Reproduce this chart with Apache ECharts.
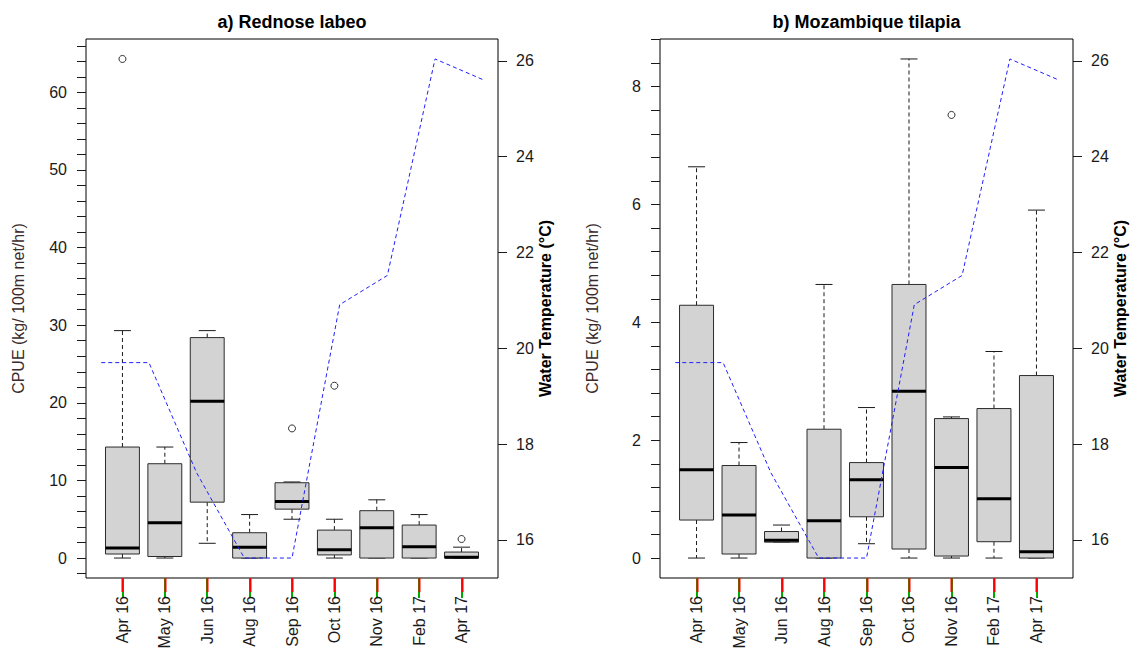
<!DOCTYPE html>
<html>
<head>
<meta charset="utf-8">
<script src="https://cdn.jsdelivr.net/npm/echarts@6/dist/echarts.min.js"></script>
<style>
  html, body { margin: 0; padding: 0; background: #fff; }
  #chart { width: 1135px; height: 648px; }
</style>
</head>
<body>
<div id="chart"></div>
<script>
// Sampling months (shared by both panels)
const months = ['Apr 16', 'May 16', 'Jun 16', 'Aug 16', 'Sep 16', 'Oct 16', 'Nov 16', 'Feb 17', 'Apr 17'];

// Mean water temperature per sampling month (°C)
const waterTemp = [19.7, 19.7, 17.4, 15.62, 15.62, 20.91, 21.52, 26.04, 25.61];

// a) Rednose labeo CPUE (kg/100m net/hr): five-number summaries per month
const labeoLow    = [0,    0,     1.9,  0,    5.0,  0,    0,    0,    0];
const labeoQ1     = [0.52, 0.2,   7.2,  0,    6.3,  0.4,  0,    0,    0];
const labeoMedian = [1.3,  4.55,  20.2, 1.4,  7.3,  1.07, 3.9,  1.46, 0.09];
const labeoQ3     = [14.3, 12.15, 28.4, 3.26, 9.7,  3.6,  6.1,  4.25, 0.77];
const labeoHigh   = [29.3, 14.3,  29.3, 5.6,  9.8,  5.0,  7.5,  5.6,  1.4];
const labeoOutlierMonth = ['Apr 16', 'Sep 16', 'Oct 16', 'Apr 17'];
const labeoOutlierValue = [64.3, 16.7, 22.2, 2.45];

// b) Mozambique tilapia CPUE (kg/100m net/hr)
const tilapiaLow    = [0,     0,     0.27, 0,     0.243, 0,     0,     0,     0];
const tilapiaQ1     = [0.645, 0.068, 0.27, 0,     0.70,  0.153, 0.034, 0.277, 0];
const tilapiaMedian = [1.50,  0.73,  0.30, 0.634, 1.33,  2.83,  1.535, 1.008, 0.108];
const tilapiaQ3     = [4.29,  1.57,  0.45, 2.186, 1.62,  4.643, 2.367, 2.537, 3.097];
const tilapiaHigh   = [6.64,  1.96,  0.56, 4.643, 2.554, 8.47,  2.395, 3.505, 5.905];
const tilapiaOutlierMonth = ['Nov 16'];
const tilapiaOutlierValue = [7.52];

// Axis tick positions
const labeoTicks = [];
for (let v = -2; v <= 66; v += 2) labeoTicks.push(v);
const labeoLabels = [0, 10, 20, 30, 40, 50, 60];
const tilapiaTicks = [];
for (let i = 0; i <= 22; i++) tilapiaTicks.push(Math.round(i * 0.4 * 10) / 10);
const tilapiaLabels = [0, 2, 4, 6, 8];
const tempTicks = [16, 18, 20, 22, 24, 26];

const FONT = '"Liberation Sans", Arial, sans-serif';
const INK = '#1a1a1a';
const TICK_LEN = 9;

// Month scale of the boxes spans 0.14 .. 9.86 (R boxplot default)
const BOX_X = [0.14, 9.86];
// Month scale of the temperature trace spans 0.68 .. 9.32
const LINE_X = [0.68, 9.32];

// R-style range padding: 4% of the data range on each side
function padRange(lo, hi) {
  const d = (hi - lo) * 0.04;
  return [lo - d, hi + d];
}

function boxRows(low, q1, med, q3, high) {
  return months.map((m, i) => [i + 1, low[i], q1[i], med[i], q3[i], high[i]]);
}

function outlierRows(monthsOut, values) {
  return monthsOut.map((m, i) => [months.indexOf(m) + 1, values[i]]);
}

// Box-and-whisker drawn with dashed whiskers, solid staples and a heavy median,
// plus the month tick hanging below the frame (axisFloor = bottom of the value axis)
function makeBoxRenderer(axisFloor) {
  return function (params, api) {
    const x = api.value(0);
    const lo = api.value(1), q1 = api.value(2), md = api.value(3), q3 = api.value(4), hi = api.value(5);
    const boxW = api.size([0.8, 0])[0];
    const capW = boxW / 2;
    const c = api.coord([x, 0])[0];
    const y = v => api.coord([x, v])[1];
    const tickX = Math.round(c) + 0.5;
    const frameBottom = Math.round(y(axisFloor));
    const dashed = { stroke: INK, lineWidth: 1, lineDash: [4, 3], fill: null };
    const solid = { stroke: INK, lineWidth: 1, fill: null };
    const kids = [];
    kids.push({
      type: 'line', z2: 50,
      shape: { x1: tickX, y1: frameBottom, x2: tickX, y2: frameBottom + 14 },
      style: { stroke: '#ff0000', lineWidth: 2 }
    });
    if (hi > q3) {
      kids.push({ type: 'line', shape: { x1: c, y1: y(q3), x2: c, y2: y(hi) }, style: dashed });
    }
    if (lo < q1) {
      kids.push({ type: 'line', shape: { x1: c, y1: y(q1), x2: c, y2: y(lo) }, style: dashed });
    }
    kids.push({ type: 'line', shape: { x1: c - capW / 2, y1: y(hi), x2: c + capW / 2, y2: y(hi) }, style: solid });
    kids.push({ type: 'line', shape: { x1: c - capW / 2, y1: y(lo), x2: c + capW / 2, y2: y(lo) }, style: solid });
    const top = y(q3), bot = y(q1);
    kids.push({
      type: 'rect',
      shape: { x: c - boxW / 2, y: top, width: boxW, height: Math.max(bot - top, 0.5) },
      style: { fill: '#d3d3d3', stroke: '#2b2b2b', lineWidth: 1 }
    });
    kids.push({
      type: 'line',
      shape: { x1: c - boxW / 2, y1: y(md), x2: c + boxW / 2, y2: y(md) },
      style: { stroke: '#000', lineWidth: 3 }
    });
    return { type: 'group', children: kids };
  };
}

const labeoRange = padRange(0, 64.3);
const tilapiaRange = padRange(0, 8.47);
const tempRange = padRange(15.62, 26.04);

const panels = [
  { left: 86, width: 412, title: 'a) Rednose labeo', range: labeoRange, ticks: labeoTicks, labels: labeoLabels,
    boxes: boxRows(labeoLow, labeoQ1, labeoMedian, labeoQ3, labeoHigh),
    outliers: outlierRows(labeoOutlierMonth, labeoOutlierValue) },
  { left: 660, width: 413, title: 'b) Mozambique tilapia', range: tilapiaRange, ticks: tilapiaTicks, labels: tilapiaLabels,
    boxes: boxRows(tilapiaLow, tilapiaQ1, tilapiaMedian, tilapiaQ3, tilapiaHigh),
    outliers: outlierRows(tilapiaOutlierMonth, tilapiaOutlierValue) }
];

const TOP = 39, HEIGHT = 539;
const grid = [], xAxis = [], yAxis = [], series = [], graphic = [];
const tickStyle = { show: true, inside: false, length: TICK_LEN, lineStyle: { color: INK, width: 1 } };
const labelFont = { color: INK, fontSize: 16, fontFamily: FONT };
const noLine = { show: false, onZero: false };

panels.forEach((p, k) => {
  grid.push({
    left: p.left, top: TOP, width: p.width, height: HEIGHT,
    show: true, borderColor: '#000', borderWidth: 1, backgroundColor: 'transparent',
    containLabel: false, outerBoundsMode: 'none'
  });
  const unit = p.width / (BOX_X[1] - BOX_X[0]);
  grid.push({
    left: p.left + (0.5 - BOX_X[0]) * unit, top: TOP, width: months.length * unit, height: HEIGHT,
    show: false, containLabel: false, outerBoundsMode: 'none'
  });

  xAxis.push({
    type: 'value', gridIndex: 2 * k, min: BOX_X[0], max: BOX_X[1], show: false,
    axisLine: noLine, splitLine: { show: false }
  });
  xAxis.push({
    type: 'value', gridIndex: 2 * k, min: LINE_X[0], max: LINE_X[1], show: false, position: 'top',
    axisLine: noLine, splitLine: { show: false }
  });
  xAxis.push({
    type: 'category', gridIndex: 2 * k + 1, data: months, position: 'bottom', boundaryGap: true,
    axisLine: noLine, splitLine: { show: false },
    axisTick: { show: true, alignWithLabel: true, interval: 0, length: 20, lineStyle: { color: '#00aa00', width: 2 } },
    axisLabel: Object.assign({ rotate: 90, margin: 18, interval: 0 }, labelFont)
  });

  yAxis.push({
    type: 'value', gridIndex: 2 * k, position: 'left', min: p.range[0], max: p.range[1],
    axisLine: noLine, splitLine: { show: false },
    axisTick: Object.assign({ customValues: p.ticks }, tickStyle),
    axisLabel: Object.assign({ customValues: p.labels, margin: 19 }, labelFont)
  });
  yAxis.push({
    type: 'value', gridIndex: 2 * k, position: 'right', min: tempRange[0], max: tempRange[1],
    axisLine: noLine, splitLine: { show: false },
    axisTick: Object.assign({ customValues: tempTicks }, tickStyle),
    axisLabel: Object.assign({ customValues: tempTicks, margin: 18 }, labelFont)
  });
  yAxis.push({
    type: 'value', gridIndex: 2 * k + 1, min: p.range[0], max: p.range[1], show: false,
    axisLine: noLine, splitLine: { show: false }
  });

  series.push({
    type: 'line', xAxisIndex: 3 * k + 1, yAxisIndex: 3 * k + 1,
    data: waterTemp.map((t, i) => [i + 1, t]),
    symbol: 'none', silent: true, animation: false,
    lineStyle: { color: '#1f1fff', width: 1, type: [4, 3] }, z: 5
  });
  series.push({
    type: 'custom', xAxisIndex: 3 * k, yAxisIndex: 3 * k,
    data: p.boxes, renderItem: makeBoxRenderer(p.range[0]), clip: false, animation: false, silent: true, z: 3
  });
  series.push({
    type: 'scatter', xAxisIndex: 3 * k, yAxisIndex: 3 * k,
    data: p.outliers, symbol: 'circle', symbolSize: 7, silent: true, animation: false,
    itemStyle: { color: 'transparent', borderColor: '#000', borderWidth: 1 }, z: 4
  });

  const cx = p.left + p.width / 2;
  const cy = TOP + HEIGHT / 2;
  graphic.push({
    type: 'text', x: cx, y: 22, silent: true,
    style: { text: p.title, font: 'bold 18px ' + FONT, fill: '#000', align: 'center', verticalAlign: 'middle' }
  });
  graphic.push({
    type: 'text', x: p.left - 68, y: cy, rotation: Math.PI / 2, silent: true,
    style: { text: 'CPUE (kg/ 100m net/hr)', font: '16px ' + FONT, fill: '#3b2b2b', align: 'center', verticalAlign: 'middle' }
  });
  graphic.push({
    type: 'text', x: p.left + p.width + 47, y: cy, rotation: Math.PI / 2, silent: true,
    style: { text: 'Water Temperature (°C)', font: 'bold 16px ' + FONT, fill: '#000', align: 'center', verticalAlign: 'middle' }
  });
});

const chart = echarts.init(document.getElementById('chart'), null, { renderer: 'svg', width: 1135, height: 648 });
chart.setOption({
  backgroundColor: '#fff',
  animation: false,
  textStyle: { fontFamily: FONT },
  grid, xAxis, yAxis, series, graphic
});
</script>
</body>
</html>
